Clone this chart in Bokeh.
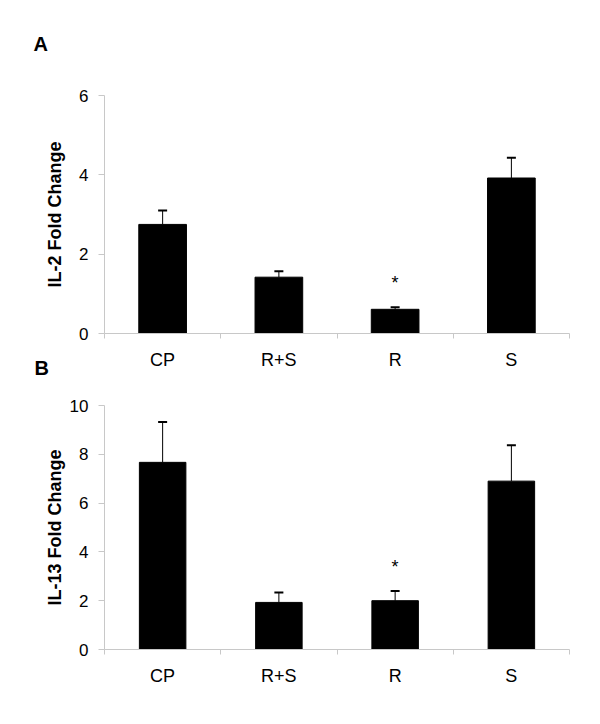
from bokeh.plotting import figure
from bokeh.layouts import column
from bokeh.models import (ColumnDataSource, Range1d, FixedTicker, Whisker, TeeHead,
                          LinearAxis, Title)
from bokeh.core.properties import value
from bokeh.embed import file_html
from bokeh.resources import INLINE

# ---- data ----
categories = ["CP", "R+S", "R", "S"]
il2_mean = [2.75, 1.42, 0.61, 3.92]
il2_err = [0.35, 0.15, 0.05, 0.51]
il13_mean = [7.67, 1.93, 2.00, 6.90]
il13_err = [1.65, 0.41, 0.40, 1.47]
significant = [False, False, True, False]
il2_yticks = [0, 2, 4, 6]
il13_yticks = [0, 2, 4, 6, 8, 10]

FONT = "Liberation Sans"
AXIS_GRAY = "#c8c8c8"


def make_panel(means, errs, yticks, ytitle, width, height, borders, bar_w,
               title_standoff):
    left, right, top, bottom = borders
    idx = list(range(len(categories)))
    upper = [m + e for m, e in zip(means, errs)]
    src = ColumnDataSource(dict(x=idx, cat=categories, mean=means, upper=upper))
    p = figure(width=width, height=height, output_backend="svg", toolbar_location=None,
               x_range=Range1d(-0.5, len(categories) - 0.5),
               y_range=Range1d(yticks[0], yticks[-1]),
               x_axis_type=None, y_axis_type=None,
               min_border_left=left, min_border_right=right,
               min_border_top=top, min_border_bottom=bottom)
    p.outline_line_color = None
    p.xgrid.visible = False
    p.ygrid.visible = False

    xaxis = LinearAxis(
        ticker=FixedTicker(ticks=idx, minor_ticks=[i - 0.5 for i in idx] + [idx[-1] + 0.5]),
        major_label_overrides={i: c for i, c in zip(idx, categories)},
        axis_line_color=AXIS_GRAY, major_tick_out=0, major_tick_in=0,
        minor_tick_out=5, minor_tick_in=0, minor_tick_line_color=AXIS_GRAY,
        major_label_standoff=11, major_label_text_font=FONT,
        major_label_text_font_size="18px", major_label_text_color="black")
    p.add_layout(xaxis, "below")

    yaxis = LinearAxis(
        ticker=FixedTicker(ticks=yticks, minor_ticks=[]),
        axis_line_color=AXIS_GRAY, major_tick_line_color=AXIS_GRAY,
        major_tick_out=6, major_tick_in=0, minor_tick_out=0, minor_tick_in=0,
        major_label_standoff=10, major_label_text_font=FONT,
        major_label_text_font_size="17px", major_label_text_color="black",
        axis_label=ytitle, axis_label_text_font=FONT,
        axis_label_text_font_size="18px", axis_label_text_font_style="bold",
        axis_label_text_color="black", axis_label_standoff=title_standoff)
    p.add_layout(yaxis, "left")

    p.vbar(x="x", top="mean", bottom=0, width=bar_w, source=src,
           fill_color="black", line_color="black")

    w = Whisker(base="x", lower="mean", upper="upper", source=src,
                line_color="black", line_width=1,
                upper_head=TeeHead(size=9, line_color="black", line_width=2),
                lower_head=None, level="glyph")
    p.add_layout(w)

    sx = [i for i, s in zip(idx, significant) if s]
    sy = [u for u, s in zip(upper, significant) if s]
    p.text(x=sx, y=sy, text=["*"] * len(sx), text_font=value(FONT),
           text_font_size="18px", text_align="center", text_baseline="middle",
           y_offset=-24, text_color="black")
    return p


pA = make_panel(il2_mean, il2_err, il2_yticks, "IL-2 Fold Change",
                592, 380, (104, 23, 95, 47), 0.41, 11)
pB = make_panel(il13_mean, il13_err, il13_yticks, "IL-13 Fold Change",
                592, 336, (97, 19, 25, 67), 0.40, 2)

# panel letters as titles of the first figure (above and below)
pA.add_layout(Title(text="A\n", align="left", offset=-71, standoff=34,
                    vertical_align="top", text_font=FONT, text_font_size="20px",
                    text_font_style="bold", text_color="black"), "above")
pA.add_layout(Title(text="B", align="left", offset=-70, standoff=-32,
                    vertical_align="top", text_font=FONT, text_font_size="20px",
                    text_font_style="bold", text_color="black"), "below")

layout = column(pA, pB)
open("out.html", "w").write(file_html(layout, INLINE))
